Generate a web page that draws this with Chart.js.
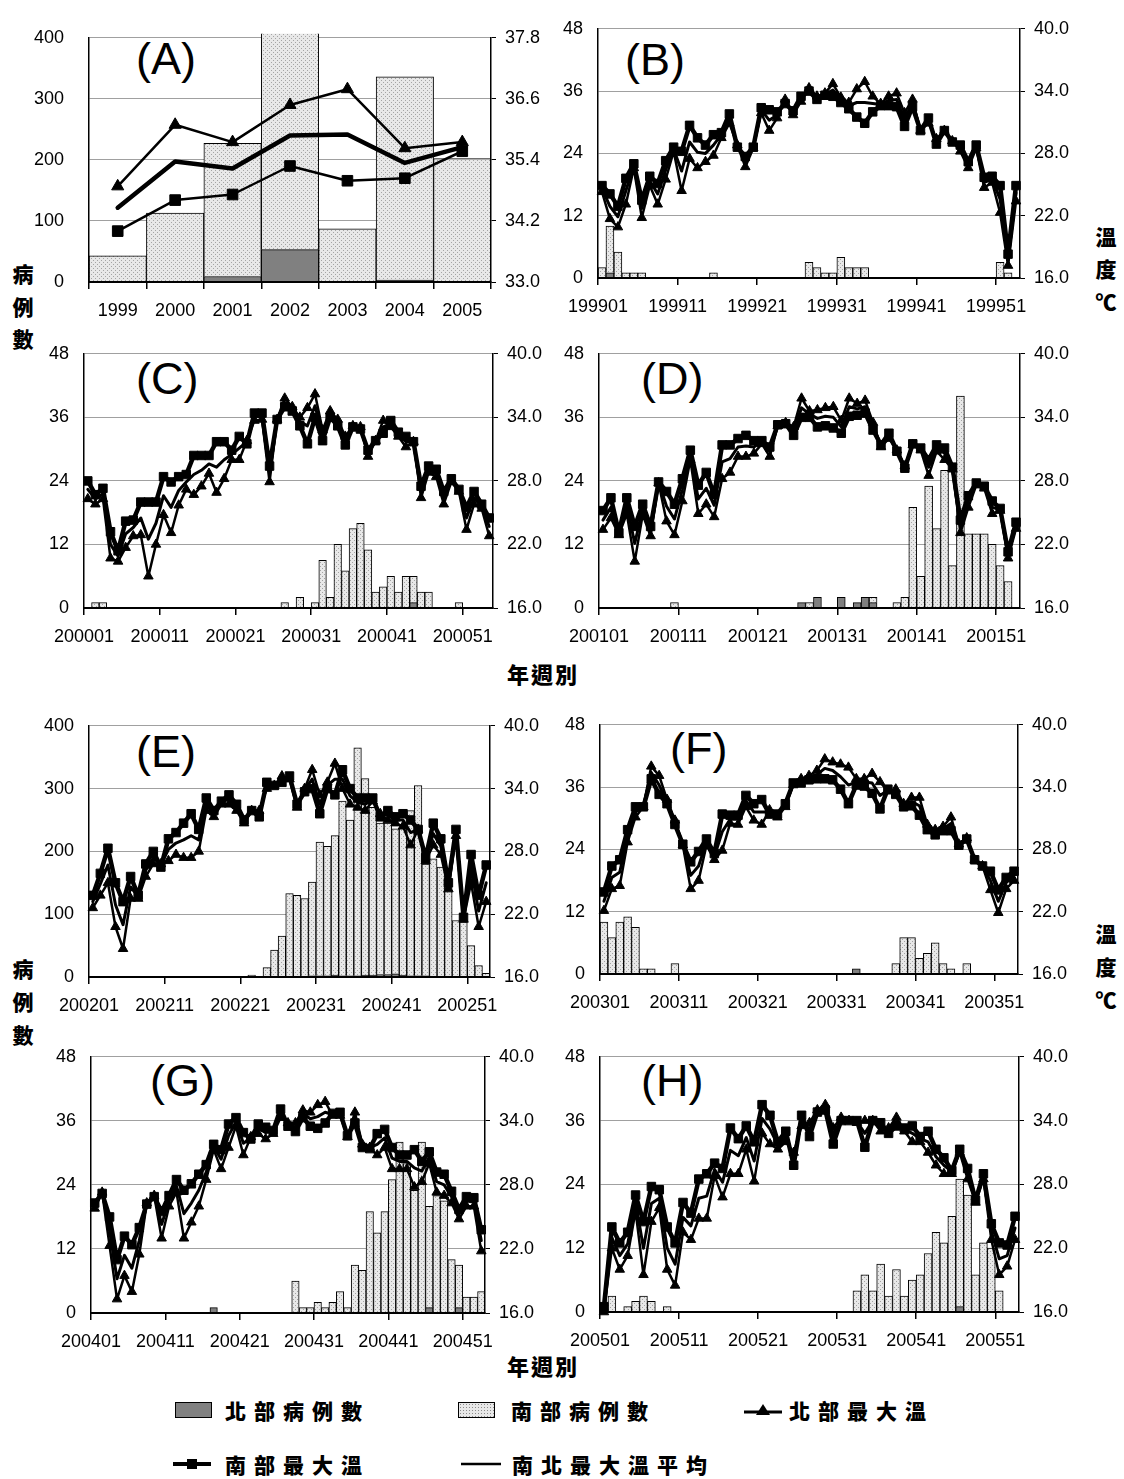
<!DOCTYPE html>
<html lang="zh-Hant">
<head>
<meta charset="utf-8">
<title>登革熱病例數與最大溫度</title>
<script src="https://cdn.jsdelivr.net/npm/chart.js@4.4.1/dist/chart.umd.min.js"></script>
<style>
  html, body { margin: 0; padding: 0; background: #fff; }
  #page { position: relative; width: 1124px; height: 1479px; overflow: hidden; background: #fff; }
  #page canvas { position: absolute; }
  .tag { position: absolute; font-family: 'Liberation Sans', Arial, sans-serif; font-size: 45px; line-height: 45px; color: #000; white-space: nowrap; }
  .cjk { position: absolute; font-family: 'Noto Sans CJK TC', 'Noto Sans CJK SC', sans-serif; font-weight: 900; color: #000; line-height: 1; white-space: nowrap; transform: translate(-50%, -50%); font-size: 21px; }
  .leg { position: absolute; font-family: 'Noto Sans CJK TC', 'Noto Sans CJK SC', sans-serif; font-weight: 900; font-size: 21px; letter-spacing: 8px; line-height: 1; color: #000; white-space: nowrap; transform: translateY(-50%); }
  .swatch { position: absolute; width: 35px; height: 14px; border: 1.5px solid #000; transform: translateY(-50%); }
  .sw-north { background: #808080; }
  .sw-south { background-color: #e8e8e8; background-image: radial-gradient(#8c8c8c 0.7px, transparent 0.9px); background-size: 3px 3px; }
  .icon { position: absolute; transform: translateY(-50%); display: block; }
</style>
</head>
<body>
<div id="page">
  <div class="tag" style="left:136px;top:36px">(A)</div>
  <div class="tag" style="left:625px;top:37px">(B)</div>
  <div class="tag" style="left:136px;top:356px">(C)</div>
  <div class="tag" style="left:641px;top:356px">(D)</div>
  <div class="tag" style="left:136px;top:729px">(E)</div>
  <div class="tag" style="left:670px;top:726px">(F)</div>
  <div class="tag" style="left:150px;top:1058px">(G)</div>
  <div class="tag" style="left:641px;top:1058px">(H)</div>

  <div class="cjk" style="left:23px;top:273px">病</div>
  <div class="cjk" style="left:23px;top:306px">例</div>
  <div class="cjk" style="left:23px;top:338px">數</div>
  <div class="cjk" style="left:23px;top:968px">病</div>
  <div class="cjk" style="left:23px;top:1001px">例</div>
  <div class="cjk" style="left:23px;top:1034px">數</div>

  <div class="cjk" style="left:1106px;top:236px">溫</div>
  <div class="cjk" style="left:1106px;top:268px">度</div>
  <div class="cjk" style="left:1106px;top:301px">℃</div>
  <div class="cjk" style="left:1106px;top:933px">溫</div>
  <div class="cjk" style="left:1106px;top:966px">度</div>
  <div class="cjk" style="left:1106px;top:999px">℃</div>

  <div class="cjk" style="left:543px;top:673px;font-size:22px;letter-spacing:2px">年週別</div>
  <div class="cjk" style="left:543px;top:1365px;font-size:22px;letter-spacing:2px">年週別</div>

  <!-- legend -->
  <div class="swatch sw-north" style="left:175px;top:1410px"></div>
  <div class="leg" style="left:225px;top:1410px">北部病例數</div>
  <div class="swatch sw-south" style="left:458px;top:1410px"></div>
  <div class="leg" style="left:511px;top:1410px">南部病例數</div>
  <svg class="icon" style="left:744px;top:1410px" width="38" height="16" viewBox="0 0 38 16">
    <line x1="0" y1="10" x2="38" y2="10" stroke="#000" stroke-width="3"/>
    <polygon points="19,2 26,13 12,13" fill="#000"/>
  </svg>
  <div class="leg" style="left:789px;top:1410px">北部最大溫</div>

  <svg class="icon" style="left:173px;top:1464px" width="38" height="14" viewBox="0 0 38 14">
    <line x1="0" y1="7" x2="38" y2="7" stroke="#000" stroke-width="4"/>
    <rect x="14" y="2" width="10" height="10" fill="#000"/>
  </svg>
  <div class="leg" style="left:225px;top:1464px">南部最大溫</div>
  <svg class="icon" style="left:461px;top:1464px" width="40" height="6" viewBox="0 0 40 6">
    <line x1="0" y1="3" x2="40" y2="3" stroke="#000" stroke-width="2.5"/>
  </svg>
  <div class="leg" style="left:512px;top:1464px">南北最大溫平均</div>
</div>

<script>
// ---------- axis ticks ----------
const annualCountTicks = [0, 100, 200, 300, 400];
const annualTempTicks = [33.0, 34.2, 35.4, 36.6, 37.8];
const weeklyCountTicks = [0, 12, 24, 36, 48];
const outbreakCountTicks = [0, 100, 200, 300, 400];
const weeklyTempTicks = [16, 22, 28, 34, 40];

// ---------- categories ----------
const years = ['1999', '2000', '2001', '2002', '2003', '2004', '2005'];
const weekLabels = (year, count) =>
  Array.from({ length: count }, (_, i) => String(year) + String(i + 1).padStart(2, '0'));
const weeks1999 = weekLabels(1999, 53);
const weeks2000 = weekLabels(2000, 54);
const weeks2001 = weekLabels(2001, 53);
const weeks2002 = weekLabels(2002, 53);
const weeks2003 = weekLabels(2003, 53);
const weeks2004 = weekLabels(2004, 53);
const weeks2005 = weekLabels(2005, 53);

// ---------- (A) yearly totals ----------
const annualNorthCases = [0, 0, 9, 53, 0, 3, 0];
const annualSouthCases = [43, 113, 218, 5280, 87, 333, 202];
const annualNorthMax = [34.88, 36.09, 35.75, 36.48, 36.79, 35.63, 35.75];
const annualSouthMax = [34.00, 34.61, 34.72, 35.28, 34.99, 35.04, 35.57];
const annualMeanMax = [34.46, 35.37, 35.23, 35.88, 35.90, 35.34, 35.65];

// ---------- (B) 1999 ----------
const cases99N = [0,1,0,0,0,0,0,0,0,0, 0,0,0,0,0,0,0,0,0,0, 0,0,0,0,0,0,0,0,0,0, 0,0,0,0,0,0,0,0,0,0, 0,0,0,0,0,0,0,0,0,0, 0,0,0];
const cases99S = [2,9,5,1,1,1,0,0,0,0, 0,0,0,0,1,0,0,0,0,0, 0,0,0,0,0,0,3,2,1,1, 4,2,2,2,0,0,0,0,0,0, 0,0,0,0,0,0,0,0,0,0, 3,1,0];
const tmax99S = [24.9,24.1,22.9,25.6,27.0,23.5,25.8,25.1,27.3,28.6, 28.2,30.7,29.5,28.8,29.8,30.0,31.8,28.6,27.7,28.6, 32.4,32.2,32.0,32.8,32.1,33.5,34.0,33.2,33.6,33.5, 32.9,32.3,31.5,30.9,32.0,32.6,32.6,32.5,30.6,32.5, 30.2,31.4,28.9,30.2,29.1,28.8,27.2,28.8,25.7,25.8, 24.9,18.3,24.9];
const tmax99N = [24.3,21.7,20.9,23.1,26.6,21.8,24.9,23.1,25.5,28.2, 24.4,27.5,26.6,27.2,27.8,29.5,30.9,28.8,26.7,28.5, 31.9,30.2,31.4,33.2,31.7,33.0,34.3,33.5,33.8,34.7, 33.4,32.9,34.2,34.9,33.5,32.8,33.5,33.8,31.9,33.2, 30.2,30.9,29.4,30.2,29.2,28.2,26.6,28.5,24.7,25.2, 22.3,17.2,23.4];
const tmax99M = [24.6,22.9,21.9,24.4,26.8,22.7,25.4,24.1,26.4,28.4, 26.3,29.1,28.1,28.0,28.8,29.8,31.4,28.7,27.2,28.6, 32.2,31.2,31.7,33.0,31.9,33.3,34.2,33.4,33.7,34.1, 33.2,32.6,32.9,32.9,32.8,32.7,33.1,33.2,31.3,32.9, 30.2,31.2,29.2,30.2,29.2,28.5,26.9,28.7,25.2,25.5, 23.6,17.8,24.2];

// ---------- (C) 2000 ----------
const cases00N = [0,0,0,0,0,0,0,0,0,0, 0,0,0,0,0,0,0,0,0,0, 0,0,0,0,0,0,0,0,0,0, 0,0,0,0,0,0,0,0,0,0, 0,0,0,1,0,0,0,0,0,0, 0,0,0,0];
const cases00S = [0,1,1,0,0,0,0,0,0,0, 0,0,0,0,0,0,0,0,0,0, 0,0,0,0,0,0,1,0,2,0, 1,9,2,12,7,15,16,11,3,4, 6,3,6,5,3,3,0,0,0,1, 0,0,0,0];
const tmax00S = [28.0,26.7,27.3,23.2,21.4,24.2,24.3,26.0,26.0,26.0, 28.4,27.9,28.4,28.6,30.4,30.4,30.4,31.7,31.7,30.9, 32.2,31.5,34.4,34.4,29.4,33.8,35.0,34.6,33.2,31.5, 34.0,31.8,34.0,33.2,31.4,33.1,32.9,30.9,31.8,32.5, 33.7,32.6,32.2,31.7,27.5,29.4,29.1,27.0,28.2,27.2, 25.5,27.0,25.8,24.5];
const tmax00N = [26.3,25.8,26.3,20.7,20.4,21.7,22.8,22.9,19.0,22.0, 24.8,23.1,25.7,27.2,26.7,27.5,28.7,26.9,28.2,30.0, 30.0,31.8,33.7,33.8,27.9,33.8,35.8,35.0,34.0,34.9, 36.2,32.8,34.6,33.8,32.2,33.2,33.1,30.3,31.8,33.7, 33.1,32.2,31.2,31.7,26.4,28.8,28.4,25.8,27.9,27.0, 23.4,25.8,25.4,22.8];
const tmax00M = [27.2,26.3,26.8,22.0,20.9,23.0,23.6,24.5,22.5,24.0, 26.6,25.5,27.1,27.9,28.6,29.0,29.6,29.3,30.0,30.5, 31.1,31.7,34.1,34.1,28.7,33.8,35.4,34.8,33.6,33.2, 35.1,32.3,34.3,33.5,31.8,33.2,33.0,30.6,31.8,33.1, 33.4,32.4,31.7,31.7,27.0,29.1,28.8,26.4,28.1,27.1, 24.5,26.4,25.6,23.7];

// ---------- (D) 2001 ----------
const cases01N = [0,0,0,0,0,0,0,0,0,0, 0,0,0,0,0,0,0,0,0,0, 0,0,0,0,0,1,0,2,0,0, 2,0,1,2,1,0,0,0,0,0, 0,0,0,0,0,0,0,0,0,0, 0,0,0];
const cases01S = [0,0,0,0,0,0,0,0,0,1, 0,0,0,0,0,0,0,0,0,0, 0,0,0,0,0,0,1,0,0,0, 0,0,0,0,1,0,0,1,2,19, 6,23,15,26,8,40,14,14,14,12, 8,5,0];
const tmax01S = [25.2,26.4,23.1,26.4,23.7,25.8,23.7,27.9,27.0,25.8, 28.2,30.9,27.6,28.8,26.7,31.4,31.4,32.0,32.3,31.8, 31.8,31.2,33.3,33.4,32.3,34.0,34.0,33.1,33.2,33.0, 32.5,34.1,34.2,34.4,32.8,31.4,32.5,30.8,29.2,31.5, 31.1,30.0,31.4,31.1,29.3,24.3,26.6,27.8,27.5,26.1, 25.4,21.3,24.1];
const tmax01N = [23.4,24.5,22.9,24.9,20.4,24.8,22.8,27.8,24.2,22.9, 26.1,30.0,24.9,25.8,24.6,28.2,28.8,30.3,30.3,30.6, 31.5,30.3,33.2,33.5,33.1,35.8,34.6,34.7,34.9,35.0, 33.7,35.8,35.3,35.6,33.5,31.2,32.0,30.9,29.4,31.4, 30.9,28.5,30.8,30.0,29.1,23.1,25.5,27.6,27.3,24.9, 25.2,20.7,23.5];
const tmax01M = [24.3,25.5,23.0,25.7,22.1,25.3,23.3,27.9,25.6,24.4, 27.2,30.5,26.3,27.3,25.7,29.8,30.1,31.2,31.3,31.2, 31.7,30.8,33.3,33.5,32.7,34.9,34.3,33.9,34.1,34.0, 33.1,35.0,34.8,35.0,33.2,31.3,32.3,30.9,29.3,31.5, 31.0,29.3,31.1,30.6,29.2,23.7,26.1,27.7,27.4,25.5, 25.3,21.0,23.8];

// ---------- (E) 2002 ----------
const cases02N = [1,0,0,0,1,1,1,0,0,0, 0,0,0,1,0,1,0,0,0,1, 0,0,0,0,0,0,0,0,0,2, 2,2,3,2,2,2,3,3,4,4, 5,3,2,2,2,1,1,1,1,0, 0,0,0];
const cases02S = [0,0,0,0,0,0,0,0,0,0, 0,0,0,0,0,0,0,0,0,0, 0,3,0,15,43,65,133,130,125,149, 213,206,222,278,248,363,313,267,241,241, 231,235,263,303,178,187,174,142,89,88, 50,18,6];
const tmax02S = [23.8,25.9,28.3,25.0,23.2,25.6,23.8,26.8,28.0,26.5, 29.2,29.8,30.7,31.6,30.1,33.1,31.9,32.8,33.4,32.5, 31.0,31.9,31.3,34.6,34.3,34.6,35.2,32.5,33.7,34.0, 31.6,34.0,33.4,35.8,34.0,33.1,33.1,33.1,31.3,31.9, 31.3,31.6,31.0,30.1,27.4,30.7,29.2,25.0,30.1,21.7, 27.7,23.8,26.7];
const tmax02N = [22.6,23.8,25.0,20.8,18.7,23.5,23.5,25.6,26.8,26.8, 27.1,27.7,27.4,27.4,28.0,31.9,31.3,32.5,32.5,31.9, 30.7,31.9,31.9,34.0,34.3,35.2,34.9,32.2,34.0,35.8, 33.4,34.6,36.4,34.0,32.5,32.2,31.9,32.8,31.6,31.0, 30.7,30.4,28.6,30.1,27.1,28.6,27.7,24.4,29.5,21.5, 25.0,20.8,23.2];
const tmax02M = [23.2,24.9,26.7,22.9,21.0,24.6,23.7,26.2,27.4,26.7, 28.2,28.8,29.1,29.5,29.1,32.5,31.6,32.7,33.0,32.2, 30.9,31.9,31.6,34.3,34.3,34.9,35.1,32.4,33.9,34.9, 32.5,34.3,34.9,34.9,33.3,32.7,32.5,33.0,31.5,31.5, 31.0,31.0,29.8,30.1,27.3,29.7,28.5,24.7,29.8,21.6, 26.4,22.3,25.0];

// ---------- (F) 2003 ----------
const cases03N = [0,0,0,0,0,0,0,0,0,0, 0,0,0,0,0,0,0,0,0,0, 0,0,0,0,0,0,0,0,0,0, 0,0,1,0,0,0,0,0,0,0, 0,0,0,0,0,0,0,0,0,0, 0,0,0];
const cases03S = [10,7,10,11,9,1,1,0,0,2, 0,0,0,0,0,0,0,0,0,0, 0,0,0,0,0,0,0,0,0,0, 0,0,0,0,0,0,0,2,7,7, 3,4,6,2,1,0,2,0,0,0, 0,0,0];
const tmax03S = [23.9,26.4,27.0,29.9,32.1,32.1,34.8,33.3,32.4,30.4, 28.5,26.8,27.8,29.0,27.6,31.4,31.3,31.3,33.2,32.4, 32.8,31.4,31.4,32.4,34.4,34.4,34.7,34.8,34.8,34.7, 33.8,32.4,34.2,34.1,33.4,31.9,33.8,33.3,32.1,32.2, 31.3,29.9,29.4,29.8,29.8,28.4,29.0,27.0,26.4,25.9, 24.1,25.3,25.9];
const tmax03N = [22.1,24.2,24.5,28.7,31.1,32.1,36.0,35.1,32.8,30.8, 28.4,24.2,25.0,28.4,27.0,27.9,30.5,30.4,32.1,30.8, 30.4,31.8,31.1,32.1,34.2,34.8,35.1,35.6,36.7,36.4, 36.2,35.9,34.8,34.8,35.3,34.5,33.6,33.8,32.4,33.0, 33.0,30.4,29.9,30.2,31.1,28.5,29.1,27.0,26.4,24.1, 21.9,24.2,25.0];
const tmax03M = [23.0,25.3,25.8,29.3,31.6,32.1,35.4,34.2,32.6,30.6, 28.5,25.5,26.4,28.7,27.3,29.7,30.9,30.9,32.7,31.6, 31.6,31.6,31.3,32.3,34.3,34.6,34.9,35.2,35.8,35.6, 35.0,34.2,34.5,34.5,34.4,33.2,33.7,33.6,32.3,32.6, 32.2,30.2,29.7,30.0,30.5,28.5,29.1,27.0,26.4,25.0, 23.0,24.8,25.5];

// ---------- (G) 2004 ----------
const cases04N = [0,0,0,0,0,0,0,0,0,0, 0,0,0,0,0,0,1,0,0,0, 0,0,0,0,0,0,0,0,0,0, 0,0,0,0,0,0,0,0,0,0, 0,0,0,0,0,1,0,0,0,1, 0,0,0];
const cases04S = [0,0,0,0,0,0,0,0,0,0, 0,0,0,0,0,0,0,0,0,0, 0,0,0,0,0,0,0,6,1,1, 2,1,2,4,1,9,8,19,15,19, 25,32,28,23,32,19,22,21,10,8, 3,3,4];
const tmax04S = [26.3,27.2,25.0,21.0,23.2,22.4,24.0,26.2,26.9,25.5, 27.0,28.5,27.5,28.1,29.0,29.9,31.8,31.3,33.7,34.3, 32.9,32.3,33.7,33.4,33.1,35.1,33.5,33.0,34.3,33.5, 33.3,33.8,34.7,34.8,32.6,33.8,31.5,31.4,32.8,33.2, 31.5,30.8,30.8,31.3,30.2,31.1,29.2,29.0,27.4,25.7, 26.9,26.8,23.8];
const tmax04N = [25.8,27.3,22.3,17.3,19.5,18.0,21.5,26.3,27.0,23.0, 26.0,27.3,23.0,24.5,26.0,28.5,31.3,29.5,31.5,33.5, 30.8,32.5,32.8,32.3,32.8,34.3,33.8,33.8,35.0,34.8, 35.5,35.8,34.5,34.5,32.5,34.8,31.8,31.5,30.8,31.5, 29.5,29.5,29.5,27.8,28.3,30.0,27.3,27.0,26.3,24.8, 26.0,26.0,21.8];
const tmax04M = [26.1,27.3,23.7,19.2,21.4,20.2,22.8,26.3,27.0,24.3, 26.5,27.9,25.3,26.3,27.5,29.2,31.6,30.4,32.6,33.9, 31.9,32.4,33.3,32.9,33.0,34.7,33.7,33.4,34.7,34.2, 34.4,34.8,34.6,34.7,32.6,34.3,31.7,31.5,31.8,32.4, 30.5,30.2,30.2,29.6,29.3,30.6,28.3,28.0,26.9,25.3, 26.5,26.4,22.8];

// ---------- (H) 2005 ----------
const cases05N = [0,0,0,0,0,0,0,0,0,0, 0,0,0,0,0,0,0,0,0,0, 0,0,0,0,0,0,0,0,0,0, 0,0,0,0,0,0,0,0,0,0, 0,0,0,0,0,1,0,0,0,0, 0,0,0];
const cases05S = [0,3,0,1,2,3,2,0,1,0, 0,0,0,0,0,0,0,0,0,0, 0,0,0,0,0,0,0,0,0,0, 0,0,4,7,4,9,3,8,3,6, 7,11,15,13,18,24,22,7,13,12, 4,0,0];
const tmax05S = [16.5,24.0,22.5,23.5,27.0,24.5,27.8,27.5,24.0,22.5, 26.3,25.3,28.5,29.0,30.0,29.5,33.3,32.3,33.5,32.0, 35.5,34.5,32.0,33.0,29.8,34.5,32.5,34.8,35.0,31.8, 34.0,34.0,34.0,31.5,34.0,33.8,32.8,33.5,33.3,33.5, 32.5,33.0,31.3,30.5,29.3,31.3,29.5,26.5,29.0,24.3, 22.5,22.3,25.0];
const tmax05N = [16.0,22.0,20.0,21.3,25.5,19.5,24.5,25.8,20.0,18.5, 23.5,22.8,24.8,24.8,28.8,26.8,29.0,29.0,31.3,28.3, 32.8,31.8,31.3,32.0,31.0,33.5,33.8,35.0,35.5,33.3, 34.3,34.0,33.8,34.0,34.0,33.0,33.3,34.3,33.0,32.0, 32.0,31.0,29.8,29.0,29.0,31.0,28.5,26.3,28.5,22.8, 19.5,20.3,22.8];
const tmax05M = [16.3,23.0,21.3,22.4,26.3,22.0,26.2,26.7,22.0,20.5, 24.9,24.1,26.7,26.9,29.4,28.2,31.2,30.7,32.4,30.2, 34.2,33.2,31.7,32.5,30.4,34.0,33.2,34.9,35.3,32.6, 34.2,34.0,33.9,32.8,34.0,33.4,33.1,33.9,33.2,32.8, 32.3,32.0,30.6,29.8,29.2,31.2,29.0,26.4,28.8,23.6, 21.0,21.3,23.9];

// ---------- panel layout (plot rectangles in page pixels) ----------
const panels = [
  { rect: [89, 17, 491, 282], labels: years, annual: true,
    north: annualNorthCases, south: annualSouthCases,
    nMax: annualNorthMax, sMax: annualSouthMax, mMax: annualMeanMax,
    countTicks: annualCountTicks, tempTicks: annualTempTicks, leftPad: 25 },
  { rect: [598, 18, 1020, 278], labels: weeks1999, north: cases99N, south: cases99S,
    nMax: tmax99N, sMax: tmax99S, mMax: tmax99M, countTicks: weeklyCountTicks, tempTicks: weeklyTempTicks },
  { rect: [84, 343, 493, 608], labels: weeks2000, north: cases00N, south: cases00S,
    nMax: tmax00N, sMax: tmax00S, mMax: tmax00M, countTicks: weeklyCountTicks, tempTicks: weeklyTempTicks },
  { rect: [599, 343, 1020, 608], labels: weeks2001, north: cases01N, south: cases01S,
    nMax: tmax01N, sMax: tmax01S, mMax: tmax01M, countTicks: weeklyCountTicks, tempTicks: weeklyTempTicks },
  { rect: [89, 715, 490, 977], labels: weeks2002, north: cases02N, south: cases02S,
    nMax: tmax02N, sMax: tmax02S, mMax: tmax02M, countTicks: outbreakCountTicks, tempTicks: weeklyTempTicks },
  { rect: [600, 714, 1018, 974], labels: weeks2003, north: cases03N, south: cases03S,
    nMax: tmax03N, sMax: tmax03S, mMax: tmax03M, countTicks: weeklyCountTicks, tempTicks: weeklyTempTicks },
  { rect: [91, 1046, 485, 1313], labels: weeks2004, north: cases04N, south: cases04S,
    nMax: tmax04N, sMax: tmax04S, mMax: tmax04M, countTicks: weeklyCountTicks, tempTicks: weeklyTempTicks },
  { rect: [600, 1046, 1019, 1312], labels: weeks2005, north: cases05N, south: cases05S,
    nMax: tmax05N, sMax: tmax05S, mMax: tmax05M, countTicks: weeklyCountTicks, tempTicks: weeklyTempTicks }
];

const page = document.getElementById('page');
const TICK_FONT = { family: "'Liberation Sans', Arial, sans-serif", size: 18 };

// light dotted fill used for the southern case bars
function dottedFill(ctx) {
  const tile = document.createElement('canvas');
  tile.width = 4; tile.height = 4;
  const g = tile.getContext('2d');
  g.fillStyle = '#e8e8e8'; g.fillRect(0, 0, 4, 4);
  g.fillStyle = '#a4a4a4'; g.fillRect(0, 0, 1, 1); g.fillRect(2, 2, 1, 1);
  return ctx.createPattern(tile, 'repeat');
}

function drawPanel(p) {
  const PAD_L = 70, PAD_R = 70, PAD_T = 15, PAD_B = 45;
  const [x0, y0, x1, y1] = p.rect;
  const w = x1 - x0 + PAD_L + PAD_R;
  const h = y1 - y0 + PAD_T + PAD_B;
  const cv = document.createElement('canvas');
  cv.width = w; cv.height = h;
  cv.style.left = (x0 - PAD_L) + 'px';
  cv.style.top = (y0 - PAD_T) + 'px';
  cv.style.width = w + 'px';
  cv.style.height = h + 'px';
  page.appendChild(cv);
  const ctx = cv.getContext('2d');

  const weekly = !p.annual;
  const slot = (x1 - x0) / p.labels.length;
  const look = weekly
    ? { sW: 4.5, nW: 2.5, mW: 3, sR: 6, nR: 5.5 }
    : { sW: 2.5, nW: 2.5, mW: 4.5, sR: 7.5, nR: 7 };
  const bars = arr => arr.map(v => (v === 0 ? null : v));
  const cTicks = p.countTicks, tTicks = p.tempTicks;

  const lineBase = {
    type: 'line', yAxisID: 'y1', borderColor: '#000', backgroundColor: '#000',
    pointBackgroundColor: '#000', pointBorderColor: '#000', pointBorderWidth: 1,
    tension: 0, fill: false, borderJoinStyle: 'round', borderCapStyle: 'round', clip: 8
  };

  new Chart(ctx, {
    data: {
      labels: p.labels,
      datasets: [
        { type: 'bar', label: '北部病例數', data: bars(p.north), yAxisID: 'y', stack: 'cases',
          backgroundColor: '#808080', borderColor: '#000', borderWidth: 1,
          barPercentage: 1, categoryPercentage: 1, order: 5 },
        { type: 'bar', label: '南部病例數', data: bars(p.south), yAxisID: 'y', stack: 'cases',
          backgroundColor: dottedFill(ctx), borderColor: '#000', borderWidth: 1,
          barPercentage: 1, categoryPercentage: 1, order: 6,
          clip: { left: 0, top: 4, right: 0, bottom: 0 } },
        Object.assign({}, lineBase, { label: '南部最大溫', data: p.sMax, borderWidth: look.sW,
          pointStyle: 'rect', pointRadius: look.sR, order: 2, stack: 's' }),
        Object.assign({}, lineBase, { label: '南北最大溫平均', data: p.mMax, borderWidth: look.mW,
          pointRadius: 0, order: 1, stack: 'm' }),
        Object.assign({}, lineBase, { label: '北部最大溫', data: p.nMax, borderWidth: look.nW,
          pointStyle: 'triangle', pointRadius: look.nR, order: 0, stack: 'n' })
      ]
    },
    options: {
      responsive: false, animation: false, devicePixelRatio: 1, events: [],
      layout: { padding: { top: PAD_T, left: 0, right: 0, bottom: 0 } },
      plugins: { legend: { display: false }, tooltip: { enabled: false } },
      scales: {
        x: {
          type: 'category', stacked: true, offset: true,
          afterFit: s => { s.height = PAD_B; },
          grid: {
            offset: true, drawOnChartArea: false, drawTicks: true, tickLength: 7, lineWidth: 1.5,
            color: c => (weekly ? (c.index % 10 === 0 ? '#000' : 'rgba(0,0,0,0)') : '#000')
          },
          border: { display: true, color: '#000', width: 2, z: 1 },
          ticks: {
            autoSkip: false, maxRotation: 0, minRotation: 0, color: '#000', font: TICK_FONT,
            padding: 11, labelOffset: weekly ? -slot / 2 : 0,
            callback: (v, i) => (weekly ? (i % 10 === 0 ? p.labels[i] : '') : p.labels[i])
          }
        },
        y: {
          position: 'left', stacked: true,
          min: cTicks[0], max: cTicks[cTicks.length - 1],
          afterBuildTicks: s => { s.ticks = cTicks.map(v => ({ value: v })); },
          afterFit: s => { s.width = PAD_L; },
          grid: { color: '#a0a0a0', lineWidth: 1, drawTicks: false },
          border: { display: true, color: '#000', width: 1.5, z: 1 },
          ticks: { color: '#000', font: TICK_FONT, padding: p.leftPad || 15 }
        },
        y1: {
          position: 'right', stacked: false,
          min: tTicks[0], max: tTicks[tTicks.length - 1],
          afterBuildTicks: s => { s.ticks = tTicks.map(v => ({ value: v })); },
          afterFit: s => { s.width = PAD_R; },
          grid: { drawOnChartArea: false, drawTicks: true, tickLength: 5, color: '#000', lineWidth: 1 },
          border: { display: true, color: '#000', width: 1.5, z: 1 },
          ticks: { color: '#000', font: TICK_FONT, padding: 9, callback: v => Number(v).toFixed(1) }
        }
      }
    }
  });
}

panels.forEach(drawPanel);
</script>
</body>
</html>
